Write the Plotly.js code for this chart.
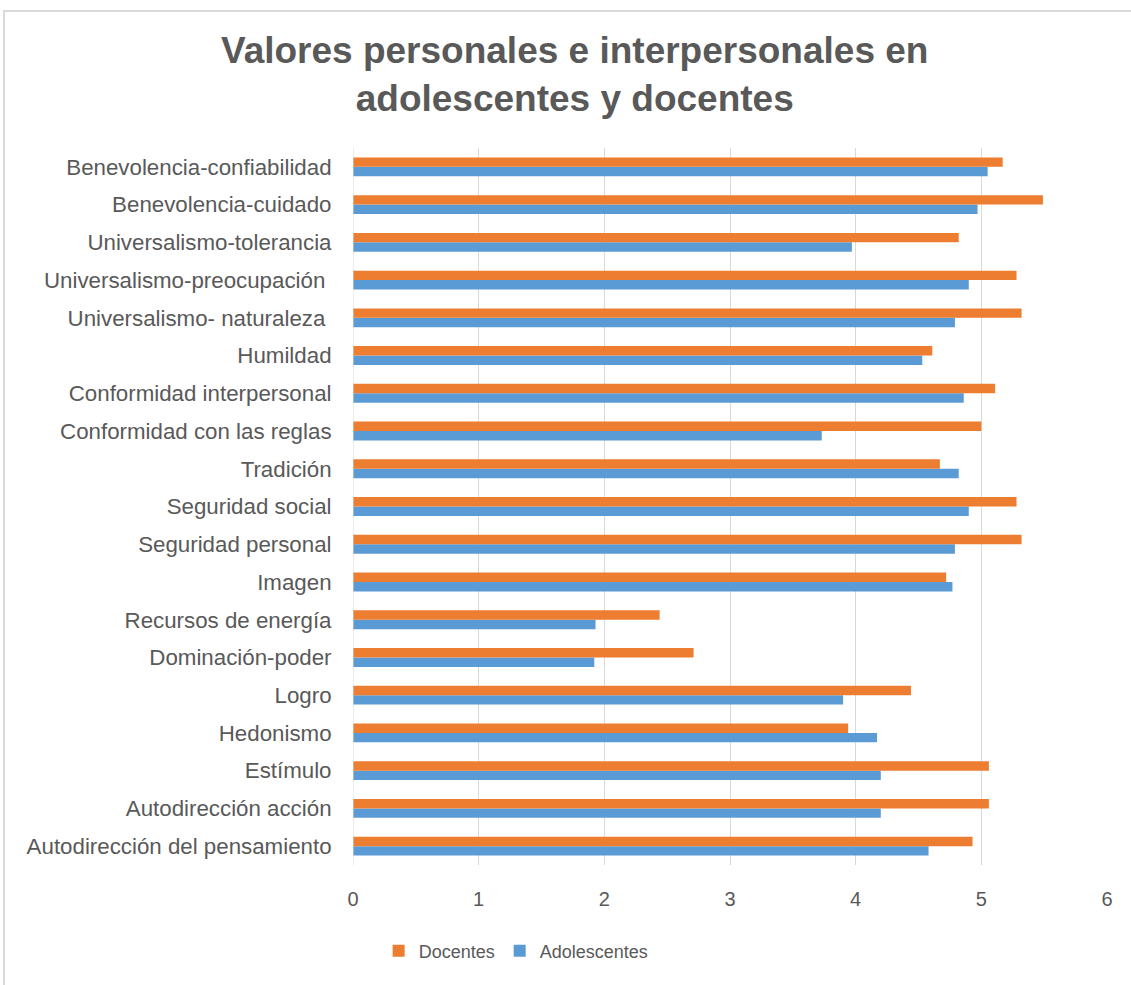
<!DOCTYPE html>
<html>
<head>
<meta charset="utf-8">
<script src="https://cdn.plot.ly/plotly-3.0.1.min.js"></script>
<style>
html,body{margin:0;padding:0;background:#fff;}
#wrap{position:relative;width:1131px;height:985px;}
#chart{width:1131px;height:985px;}
#frame{position:absolute;left:3px;top:10px;width:1140px;height:990px;border:2px solid #d9d9d9;pointer-events:none;box-sizing:border-box;}
</style>
</head>
<body>
<div id="wrap"><div id="chart"></div><div id="frame"></div></div>
<script>
// categories listed bottom-to-top
const categories = [
  "Autodirección del pensamiento",
  "Autodirección acción",
  "Estímulo",
  "Hedonismo",
  "Logro",
  "Dominación-poder",
  "Recursos de energía",
  "Imagen",
  "Seguridad personal",
  "Seguridad social",
  "Tradición",
  "Conformidad con las reglas",
  "Conformidad interpersonal",
  "Humildad",
  "Universalismo- naturaleza ",
  "Universalismo-preocupación ",
  "Universalismo-tolerancia",
  "Benevolencia-cuidado",
  "Benevolencia-confiabilidad"
];
const docentes = [4.93, 5.06, 5.06, 3.94, 4.44, 2.71, 2.44, 4.72, 5.32, 5.28, 4.67, 5.00, 5.11, 4.61, 5.32, 5.28, 4.82, 5.49, 5.17];
const adolescentes = [4.58, 4.20, 4.20, 4.17, 3.90, 1.92, 1.93, 4.77, 4.79, 4.90, 4.82, 3.73, 4.86, 4.53, 4.79, 4.90, 3.97, 4.97, 5.05];
const xTicks = [0, 1, 2, 3, 4, 5, 6];
const titleText = '<b>Valores personales e interpersonales en<br>adolescentes y docentes</b>';

const gray = '#595959';
const FONT = 'Liberation Sans, Arial, sans-serif';
const traces = [
  {type:'bar', orientation:'h', name:'Adolescentes', y:categories, x:adolescentes,
   marker:{color:'#5B9BD5', line:{color:'#5B9BD5', width:0}}, hoverinfo:'x+y'},
  {type:'bar', orientation:'h', name:'Docentes', y:categories, x:docentes,
   marker:{color:'#ED7D31', line:{color:'#ED7D31', width:0}}, hoverinfo:'x+y'}
];

const layout = {
  width:1131, height:985,
  margin:{l:353, r:24, t:148, b:120},
  paper_bgcolor:'#fff', plot_bgcolor:'#fff',
  barmode:'group', bargap:0.5, bargroupgap:0,
  annotations:[{text:titleText, xref:'paper', yref:'paper', x:0.2944, y:1.1025,
    xanchor:'center', yanchor:'middle', showarrow:false, align:'center',
    font:{family:FONT, size:37, color:gray}}],
  xaxis:{range:[0,6], tickvals:xTicks, ticktext:xTicks.map(String),
    showgrid:true, gridcolor:'#d9d9d9', gridwidth:1, zeroline:false, showline:false,
    ticks:'outside', ticklen:16, tickcolor:'rgba(0,0,0,0)',
    tickfont:{family:FONT, size:20, color:gray}},
  yaxis:{type:'category', showgrid:false, zeroline:false, showline:false,
    ticks:'outside', ticklen:16, tickcolor:'rgba(0,0,0,0)',
    tickfont:{family:FONT, size:22.3, color:gray}},
  shapes:[{type:'line', xref:'x', yref:'paper', x0:0, x1:0, y0:0, y1:1, line:{color:'#d9d9d9', width:1}}],
  showlegend:true,
  legend:{orientation:'h', traceorder:'reversed', x:0.034, xanchor:'left', y:-0.12, yanchor:'middle',
    font:{family:FONT, size:18, color:gray},
    itemwidth:30, tracegroupgap:0, bgcolor:'rgba(0,0,0,0)'}
};
Plotly.newPlot('chart', traces, layout, {displayModeBar:false, staticPlot:true});
</script>
</body>
</html>
